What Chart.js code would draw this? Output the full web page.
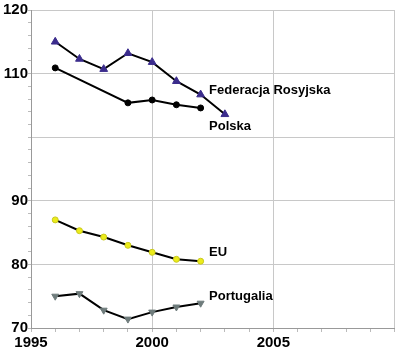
<!DOCTYPE html>
<html>
<head>
<meta charset="utf-8">
<script src="https://cdn.jsdelivr.net/npm/chart.js@4.4.1/dist/chart.umd.min.js"></script>
<style>
  html, body { margin: 0; padding: 0; background: #fff; }
  #wrap { width: 400px; height: 354px; }
</style>
</head>
<body>
<div id="wrap"><canvas id="myChart" width="400" height="354"></canvas></div>
<script>
// dane
var years = [1996, 1997, 1998, 1999, 2000, 2001, 2002, 2003];
var rosja = [115.0, 112.3, 110.7, 113.2, 111.8, 108.8, 106.7, 103.6];
var polska = [110.9, null, null, 105.4, 105.85, 105.1, 104.6, null];
var eu = [87.0, 85.3, 84.3, 83.0, 81.9, 80.8, 80.5, null];
var portugalia = [75.0, 75.4, 72.8, 71.4, 72.5, 73.3, 73.9, null];
var seriesNames = ["Federacja Rosyjska", "Polska", "EU", "Portugalia"];
var xLabels = [1995, 2000, 2005];
var yLabels = [70, 80, 90, 110, 120];

function pts(vals) {
	var out = [];
	for (var i = 0; i < years.length; i++) {
		if (vals[i] !== null) out.push({ x: years[i], y: vals[i] });
	}
	return out;
}

var FONT = "'Liberation Sans', Arial, sans-serif";

// podpisy serii przy liniach
var seriesLabels = {
	id: "seriesLabels",
	afterDatasetsDraw: function (chart) {
		var c = chart.ctx, xs = chart.scales.x, ys = chart.scales.y;
		var anchors = [[2002.35, 107.3], [2002.35, 101.7], [2002.35, 81.95], [2002.35, 75.0]];
		c.save();
		c.fillStyle = "#000";
		c.font = "bold 13px " + FONT;
		c.textBaseline = "middle";
		c.textAlign = "left";
		for (var i = 0; i < seriesNames.length; i++) {
			c.fillText(seriesNames[i], xs.getPixelForValue(anchors[i][0]), ys.getPixelForValue(anchors[i][1]));
		}
		c.restore();
	}
};

var common = { borderColor: "#000", borderWidth: 2, tension: 0, spanGaps: true, pointBorderWidth: 1 };

var data = {
	datasets: [
		Object.assign({}, common, {
			label: seriesNames[0], data: pts(rosja),
			pointStyle: "triangle", pointRadius: 4.5,
			pointBackgroundColor: "#3b2c8c", pointBorderColor: "#3b2c8c"
		}),
		Object.assign({}, common, {
			label: seriesNames[1], data: pts(polska),
			pointStyle: "circle", pointRadius: 3,
			pointBackgroundColor: "#000", pointBorderColor: "#000"
		}),
		Object.assign({}, common, {
			label: seriesNames[2], data: pts(eu),
			pointStyle: "circle", pointRadius: 3,
			pointBackgroundColor: "#ecec1a", pointBorderColor: "#c8c820"
		}),
		Object.assign({}, common, {
			label: seriesNames[3], data: pts(portugalia),
			pointStyle: "triangle", pointRotation: 180, pointRadius: 4,
			pointBackgroundColor: "#6f7c7c", pointBorderColor: "#6f7c7c"
		})
	]
};

var myChart = new Chart(document.getElementById("myChart"), {
	type: "line",
	data: data,
	plugins: [seriesLabels],
	options: {
		responsive: false,
		animation: false,
		layout: { padding: { top: 10, right: 4, left: 0, bottom: 0 } },
		plugins: { legend: { display: false }, tooltip: { enabled: false } },
		scales: {
			x: {
				type: "linear", min: 1995, max: 2010,
				afterFit: function (s) { s.height = 26; },
				border: { color: "#999", width: 1 },
				grid: {
					color: function (ctx) { return ctx.tick && ctx.tick.value % 5 === 0 ? "#c8c8c8" : "rgba(0,0,0,0)"; },
					tickColor: "#bbb", tickLength: 4, lineWidth: 1
				},
				ticks: {
					stepSize: 1, autoSkip: false, maxRotation: 0, padding: 2,
					color: "#000", font: { family: FONT, size: 15, weight: "bold" },
					callback: function (v) { return xLabels.indexOf(v) >= 0 ? String(v) : ""; }
				}
			},
			y: {
				min: 70, max: 120,
				afterFit: function (s) { s.width = 31; },
				border: { color: "#999", width: 1 },
				grid: {
					color: function (ctx) { return ctx.tick && ctx.tick.value % 10 === 0 ? "#c8c8c8" : "rgba(0,0,0,0)"; },
					tickColor: "#bbb", tickLength: 3, lineWidth: 1
				},
				ticks: {
					stepSize: 2, autoSkip: false, padding: 0,
					color: "#000", font: { family: FONT, size: 15, weight: "bold" },
					callback: function (v) { return yLabels.indexOf(v) >= 0 ? String(v) : ""; }
				}
			}
		}
	}
});
</script>
</body>
</html>
